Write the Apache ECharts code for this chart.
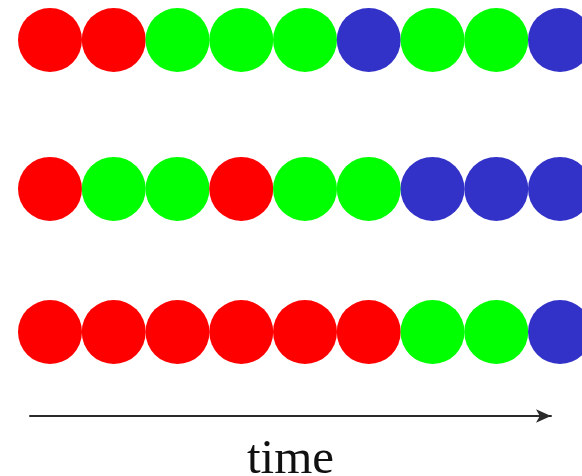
<!DOCTYPE html>
<html>
<head>
<meta charset="utf-8">
<script src="https://cdn.jsdelivr.net/npm/echarts@6/dist/echarts.min.js"></script>
<style>html,body{margin:0;padding:0;background:#fff}#c{width:582px;height:476px}</style>
</head>
<body>
<div id="c"></div>
<script>
// Sequences of states over time (R = red, G = green, B = blue)
var steps = [0, 1, 2, 3, 4, 5, 6, 7, 8];
var row1 = ['R', 'R', 'G', 'G', 'G', 'B', 'G', 'G', 'B'];
var row2 = ['R', 'G', 'G', 'R', 'G', 'G', 'B', 'B', 'B'];
var row3 = ['R', 'R', 'R', 'R', 'R', 'R', 'G', 'G', 'B'];
var rows = [row1, row2, row3];
var rowPositions = [0, 1.02, 2];
var axisName = 'time';

var colorMap = { R: '#ff0000', G: '#00ff00', B: '#3232c8' };

var data = [];
rows.forEach(function (row, r) {
  row.forEach(function (s, i) {
    data.push({ value: [steps[i], rowPositions[r]], itemStyle: { color: colorMap[s], opacity: 1 } });
  });
});

var chart = echarts.init(document.getElementById('c'), null, { renderer: 'canvas' });
chart.setOption({
  animation: false,
  backgroundColor: '#ffffff',
  grid: [
    { left: 50, right: 22, top: 40, bottom: 144, outerBoundsMode: 'none', containLabel: false },
    { left: 30, right: 31, top: 400, height: 16, outerBoundsMode: 'none', containLabel: false }
  ],
  xAxis: [
    { gridIndex: 0, type: 'value', min: 0, max: 8, show: false },
    {
      gridIndex: 1, type: 'value', min: 0, max: 1,
      axisLine: { show: true, onZero: false, lineStyle: { color: '#2a2a2a', width: 2 }, symbol: ['none', 'arrow'], symbolSize: [10, 15] },
      axisTick: { show: false }, axisLabel: { show: false }, splitLine: { show: false },
      name: axisName, nameLocation: 'middle', nameGap: 20,
      nameTextStyle: { fontFamily: 'Liberation Serif', fontSize: 49, color: '#111' }
    }
  ],
  yAxis: [
    { gridIndex: 0, type: 'value', min: 0, max: 2, inverse: true, show: false },
    { gridIndex: 1, type: 'value', show: false }
  ],
  series: [{
    type: 'scatter',
    xAxisIndex: 0, yAxisIndex: 0,
    symbol: 'circle',
    symbolSize: 64,
    itemStyle: { opacity: 1 },
    data: data
  }]
});
</script>
</body>
</html>
